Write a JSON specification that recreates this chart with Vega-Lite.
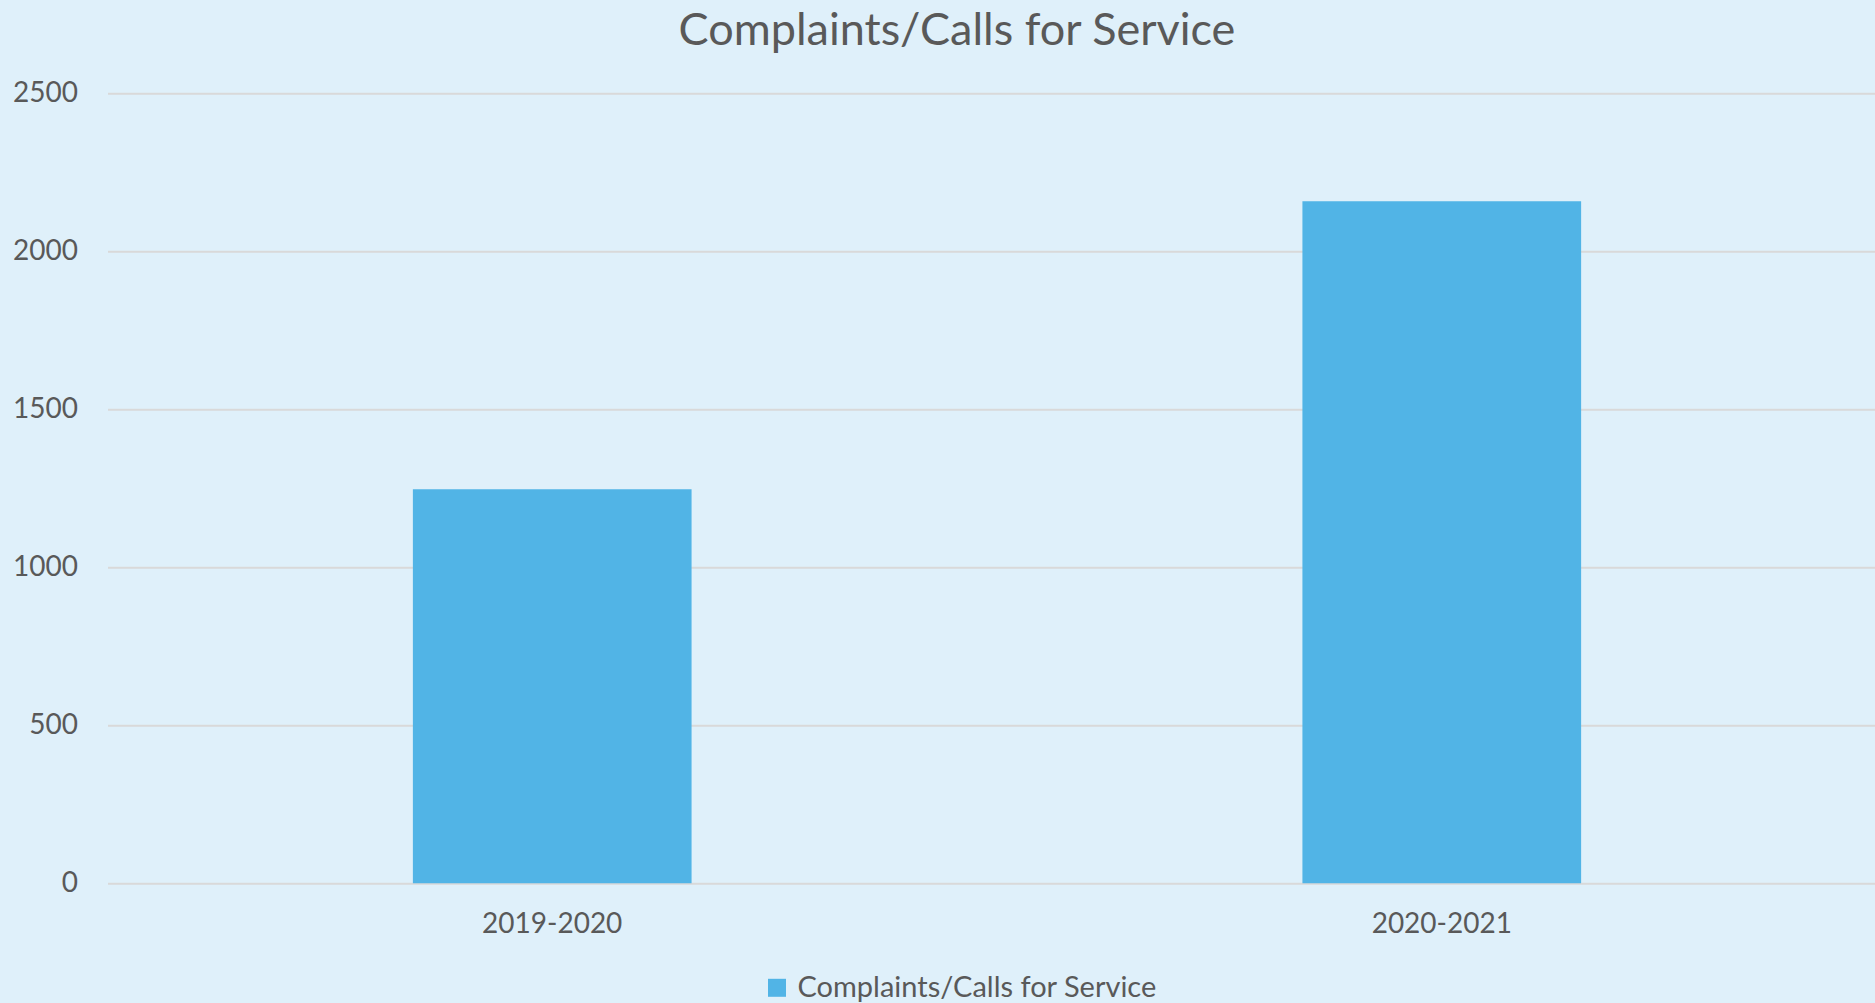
{
  "$schema": "https://vega.github.io/schema/vega-lite/v6.json",
  "autosize": {"type": "none"},
  "width": 1779,
  "height": 790,
  "padding": {"left": 107.5, "top": 93.3, "right": 0, "bottom": 120},
  "background": "#DFF0FA",
  "title": {
    "text": "Complaints/Calls for Service",
    "font": "Lato",
    "fontSize": 45,
    "fontWeight": "normal",
    "color": "#595959",
    "anchor": "middle",
    "frame": "group",
    "dx": -40,
    "offset": 25
  },
  "data": {
    "values": [
      {"period": "2019-2020", "series": "Complaints/Calls for Service", "value": 1247},
      {"period": "2020-2021", "series": "Complaints/Calls for Service", "value": 2158}
    ]
  },
  "mark": {"type": "bar"},
  "encoding": {
    "x": {
      "field": "period",
      "type": "nominal",
      "sort": null,
      "scale": {"paddingInner": 0.6867, "paddingOuter": 0.3433},
      "axis": {
        "title": null,
        "labelAngle": 0,
        "domain": false,
        "ticks": false,
        "labelFont": "Lato",
        "labelFontSize": 28,
        "labelColor": "#595959",
        "labelPadding": 27
      }
    },
    "y": {
      "field": "value",
      "type": "quantitative",
      "scale": {"domain": [0, 2500], "nice": false},
      "axis": {
        "title": null,
        "values": [0, 500, 1000, 1500, 2000, 2500],
        "format": "d",
        "domain": false,
        "ticks": false,
        "grid": true,
        "gridColor": "#D9D9D9",
        "gridWidth": 2,
        "labelFont": "Lato",
        "labelFontSize": 28,
        "labelColor": "#595959",
        "labelPadding": 30
      }
    },
    "color": {
      "field": "series",
      "type": "nominal",
      "scale": {"range": ["#51B4E6"]},
      "legend": {
        "title": null,
        "orient": "none",
        "legendX": 655,
        "legendY": 880,
        "symbolType": "square",
        "symbolSize": 324,
        "symbolStrokeWidth": 0,
        "symbolOpacity": 1,
        "labelFont": "Lato",
        "labelFontSize": 29,
        "labelColor": "#595959",
        "labelOffset": 6,
        "labelLimit": 800
      }
    }
  },
  "config": {
    "view": {"stroke": null},
    "axis": {"gridOpacity": 1}
  }
}
